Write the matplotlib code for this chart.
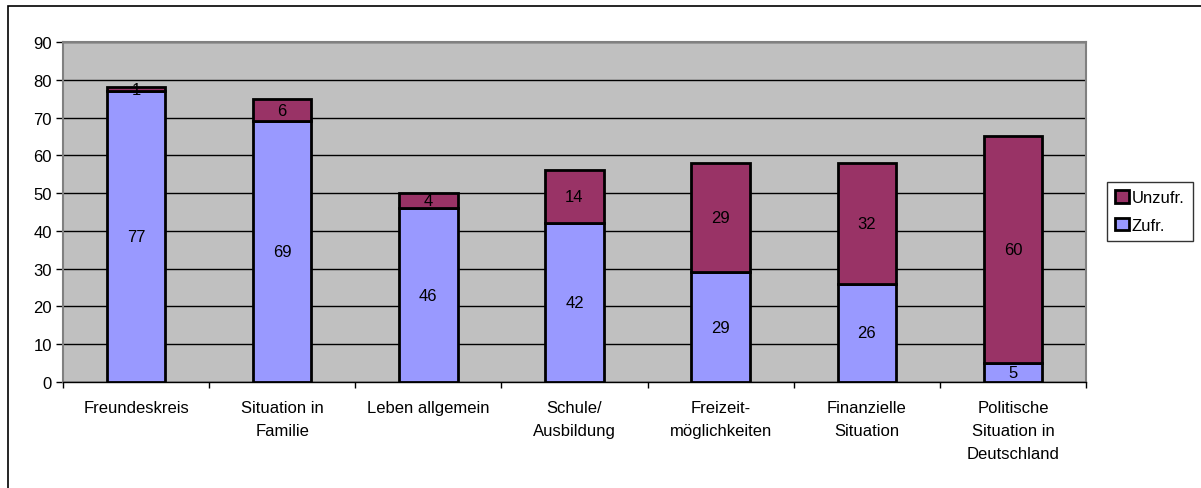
import matplotlib.pyplot as plt
from matplotlib.patches import Rectangle
import numpy as np

plt.rcParams['font.family'] = ['Liberation Sans', 'DejaVu Sans']

categories = ['Freundeskreis', 'Situation in\nFamilie', 'Leben allgemein', 'Schule/\nAusbildung',
              'Freizeit-\nmöglichkeiten', 'Finanzielle\nSituation', 'Politische\nSituation in\nDeutschland']
zufr = [77, 69, 46, 42, 29, 26, 5]
unzufr = [1, 6, 4, 14, 29, 32, 60]

fig = plt.figure(figsize=(12.01, 4.89), dpi=100)
fig.patch.set_facecolor('white')
# outer chart frame (runs off the right/bottom edge like the original)
fig.add_artist(Rectangle((8 / 1201, -0.1), 1.2, 1 - 7 / 489 + 0.1, transform=fig.transFigure,
                         fill=False, edgecolor='black', linewidth=1.2))

ax = fig.add_axes([63 / 1201, 1 - 383 / 489, (1086 - 63) / 1201, (383 - 43) / 489])
ax.set_facecolor('#C0C0C0')

x = np.arange(len(categories))
w = 0.40
fs = 12
ax.bar(x, zufr, w, color='#9999FF', edgecolor='black', linewidth=2, label='Zufr.', zorder=3)
ax.bar(x, unzufr, w, bottom=zufr, color='#993366', edgecolor='black', linewidth=2,
       label='Unzufr.', zorder=3)

for i in range(len(categories)):
    ax.text(x[i], zufr[i] / 2, str(zufr[i]), ha='center', va='center', fontsize=fs, zorder=4)
    ax.text(x[i], zufr[i] + unzufr[i] / 2, str(unzufr[i]), ha='center', va='center',
            fontsize=fs, zorder=4)

ax.set_xlim(-0.5, len(categories) - 0.5)
ax.set_ylim(0, 90)
ax.set_yticks(range(0, 91, 10))
ax.yaxis.grid(True, color='black', linewidth=1)
ax.set_axisbelow(True)

ax.set_xticks(x)
ax.set_xticklabels(categories, fontsize=fs, linespacing=1.65)
ax.set_xticks(np.arange(-0.5, len(categories)), minor=True)
ax.tick_params(axis='x', which='major', length=0, pad=13)
ax.tick_params(axis='x', which='minor', length=4, width=1, color='black')
ax.tick_params(axis='y', length=5, width=1, labelsize=fs, pad=3)

for s in ['top', 'right', 'left']:
    ax.spines[s].set_color('#808080')
    ax.spines[s].set_linewidth(1.5)
ax.spines['bottom'].set_color('black')
ax.spines['bottom'].set_linewidth(1)

handles, labels = ax.get_legend_handles_labels()
leg = fig.legend(handles[::-1], labels[::-1], loc='upper left',
                 bbox_to_anchor=(1107 / 1201, 1 - 183 / 489), frameon=True, fancybox=False,
                 fontsize=fs, handlelength=0.8, handleheight=0.75, handletextpad=0.2,
                 borderpad=0.5, labelspacing=0.75, borderaxespad=0)
leg.get_frame().set_edgecolor('black')
leg.get_frame().set_linewidth(1)

fig.savefig('out.png', dpi=100)
